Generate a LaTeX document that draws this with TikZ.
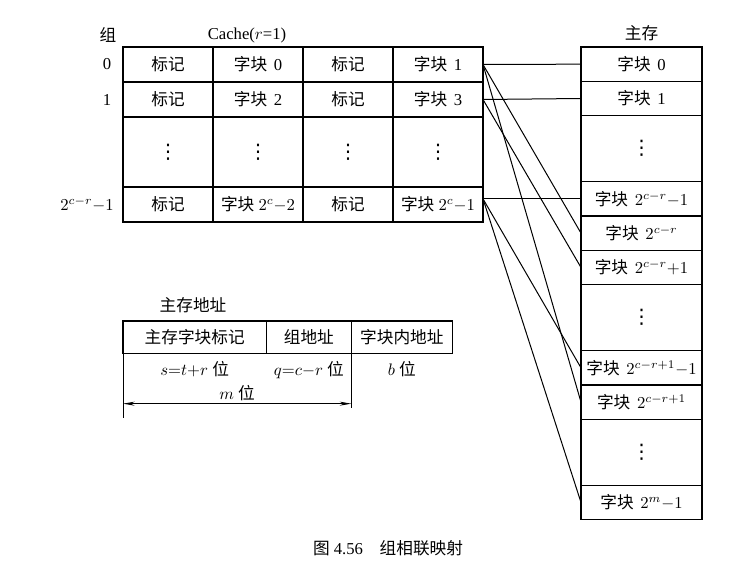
\documentclass[tikz,border=0pt]{standalone}
\usepackage{fontspec}
\setmainfont{Liberation Serif}
\newfontfamily\cjk{Noto Sans CJK SC}
\newfontfamily\sym{DejaVu Sans}
\usepackage{tikz}
\usetikzlibrary{positioning, arrows.meta, calc}
\newcommand{\zh}[1]{{\cjk #1}}
\newcommand{\zk}{\zh{字块}\hspace{0.4em}}
\newcommand{\vd}{{\sym\large ⋮}}

\begin{document}
\begin{tikzpicture}[
    x=0.6pt, y=-0.6pt,
    node distance=0pt,
    cell/.style={rectangle, draw, line width=0.9pt, outer sep=0pt, inner sep=0pt, minimum width=54pt, minimum height=21pt},
    gap/.style={cell, minimum height=42pt},
    mem/.style={cell, minimum width=72.6pt, minimum height=20.6pt},
    memgap/.style={mem, minimum height=39.6pt},
    field/.style={cell, minimum height=19.6pt},
    link/.style={line width=0.6pt},
    dim/.style={line width=0.6pt, {Stealth[length=7pt, width=2.4pt]}-{Stealth[length=7pt, width=2.4pt]}}
]
\fill[white] (0,0) rectangle (741,576);
\useasboundingbox (0,0) rectangle (741,576);

% Cache
\node[cell, anchor=north west] (c00) at (123,47) {\zh{标记}};
\node[cell, right=of c00] (c01) {\zk 0};
\node[cell, right=of c01] (c02) {\zh{标记}};
\node[cell, right=of c02] (c03) {\zk 1};
\node[cell, below=of c00] (c10) {\zh{标记}};
\node[cell, right=of c10] (c11) {\zk 2};
\node[cell, right=of c11] (c12) {\zh{标记}};
\node[cell, right=of c12] (c13) {\zk 3};
\node[gap, below=of c10] (c20) {\vd};
\node[gap, right=of c20] (c21) {\vd};
\node[gap, right=of c21] (c22) {\vd};
\node[gap, right=of c22] (c23) {\vd};
\node[cell, below=of c20] (c30) {\zh{标记}};
\node[cell, right=of c30] (c31) {\zh{字块}\hspace{0.25em}$2^{c}{-}2$};
\node[cell, right=of c31] (c32) {\zh{标记}};
\node[cell, right=of c32] (c33) {\zh{字块}\hspace{0.25em}$2^{c}{-}1$};

\node (zu) at (108,35) {\zh{组}};
\node (cache) at (247,35) {Cache($r$=1)};
\node[left=3.5pt of c00] (r0) {0};
\node[left=3.5pt of c10] (r1) {1};
\node[left=2pt of c30] (r3) {$2^{c-r}{-}1$};

% main memory
\node[mem, anchor=north west] (m0) at (581,47) {\zk 0};
\node[mem, below=of m0] (m1) {\zk 1};
\node[memgap, below=of m1] (m2) {\vd};
\node[mem, below=of m2] (m3) {\zk$2^{c-r}{-}1$};
\node[mem, below=of m3] (m4) {\zk$2^{c-r}$};
\node[mem, below=of m4] (m5) {\zk$2^{c-r}{+}1$};
\node[memgap, below=of m5] (m6) {\vd};
\node[mem, below=of m6] (m7) {\zk$2^{c-r+1}{-}1$};
\node[mem, below=of m7] (m8) {\zk$2^{c-r+1}$};
\node[memgap, below=of m8] (m9) {\vd};
\node[mem, below=of m9] (m10) {\zk$2^{m}{-}1$};
\node[above=0pt of m0] (mm) {\zh{主存}};

% mapping
\coordinate (o3) at (c33.east |- m3.west);
\draw[link] (c03.east) -- (m0.west);
\draw[link] (c03.east) -- (m4.west);
\draw[link] (c03.east) -- (m8.west);
\draw[link] (c13.east) -- (m1.west);
\draw[link] (c13.east) -- (m5.west);
\draw[link] (o3) -- (m3.west);
\draw[link] (o3) -- (m7.west);
\draw[link] (o3) -- (m10.west);

% address format
\node (addr) at (193,305) {\zh{主存地址}};
\node[field, anchor=north west, minimum width=86pt] (a0) at (123,321) {\zh{主存字块标记}};
\node[field, minimum width=51pt, right=of a0] (a1) {\zh{组地址}};
\node[field, minimum width=60.6pt, right=of a1] (a2) {\zh{字块内地址}};
\node[below=1pt of a0] (sb) {$s{=}t{+}r$ \zh{位}};
\node[below=1pt of a1] (qb) {$q{=}c{-}r$ \zh{位}};
\node[below=1pt of a2] (bb) {$b$ \zh{位}};

\draw[link] (a0.south west) -- ++(0,64);
\draw[link] (a1.south east) -- ++(0,54);
\coordinate (dl) at ($(a0.south west)+(0,50)$);
\coordinate (dr) at ($(a1.south east)+(0,50)$);
\draw[dim] (dl) -- (dr);
\node[anchor=south, inner sep=1.5pt] (mb) at ($(dl)!0.5!(dr)$) {$m$ \zh{位}};

\node (cap) at (388,548) {\zh{图}~4.56\quad\zh{组相联映射}};
\end{tikzpicture}
\end{document}
